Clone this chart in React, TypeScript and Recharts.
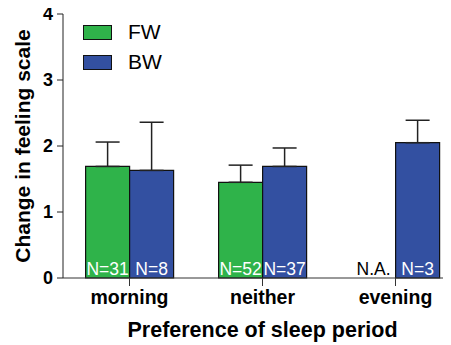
import React from "react";
import { BarChart, Bar, XAxis, YAxis, ErrorBar, LabelList } from "recharts";

const categories = ["morning", "neither", "evening"];
const fwMeans: (number | null)[] = [1.69, 1.45, null];
const fwSem: (number | null)[] = [0.37, 0.26, null];
const fwLabels = ["N=31", "N=52", "N.A."];
const bwMeans = [1.63, 1.69, 2.05];
const bwSem = [0.73, 0.28, 0.34];
const bwLabels = ["N=8", "N=37", "N=3"];
const yTicks = [0, 1, 2, 3, 4];

const GREEN = "#2fb34a";
const BLUE = "#3350a1";
const FONT = "'Liberation Sans', Arial, sans-serif";

const data = categories.map((c, i) => ({
  category: c,
  fw: fwMeans[i],
  fwErr: fwSem[i] == null ? null : [0, fwSem[i]],
  fwLabel: fwLabels[i],
  bw: bwMeans[i],
  bwErr: [0, bwSem[i]],
  bwLabel: bwLabels[i],
}));

// Sample size printed in white at the foot of each bar.
const NLabel = (props: any) => {
  const { x, y, width, height, value } = props;
  if (x == null || width == null) return null;
  return (
    <text
      x={x + width / 2}
      y={y + height - 3}
      textAnchor="middle"
      fill="#fff"
      fontFamily={FONT}
      fontSize={17.5}
    >
      {value}
    </text>
  );
};

// A group with no FW data has no bar, so its note is placed in the empty FW slot
// just left of the BW bar of the same category.
const MissingLabel = (props: any) => {
  const { x, y, width, height, index } = props;
  if (x == null || width == null || fwMeans[index] != null) return null;
  return (
    <text
      x={x - width / 2}
      y={y + height - 3}
      textAnchor="middle"
      fill="#000"
      fontFamily={FONT}
      fontSize={17.5}
    >
      {fwLabels[index]}
    </text>
  );
};

const legendItems = [
  { name: "FW", color: GREEN },
  { name: "BW", color: BLUE },
];

export default function App() {
  return (
    <div style={{ position: "relative", margin: "-8px 0 0 -8px", width: 451, height: 345, overflow: "hidden" }}>
      <BarChart
        width={470}
        height={345}
        data={data}
        margin={{ top: 14, right: 8, bottom: 0, left: 0 }}
        barCategoryGap="17%"
        barGap={0}
      >
        <XAxis
          dataKey="category"
          height={67}
          stroke="#333"
          tickSize={8}
          tickMargin={4}
          tick={{ fill: "#000", fontFamily: FONT, fontSize: 19.5, fontWeight: "bold" }}
          label={{
            value: "Preference of sleep period",
            position: "insideBottom",
            offset: 8,
            fill: "#000",
            fontFamily: FONT,
            fontSize: 21.5,
            fontWeight: "bold",
          }}
        />
        <YAxis
          width={63}
          domain={[0, 4]}
          ticks={yTicks}
          stroke="#222"
          tickSize={6}
          tickMargin={4}
          tick={{ fill: "#000", fontFamily: FONT, fontSize: 18, fontWeight: "bold" }}
          label={{
            value: "Change in feeling scale",
            angle: -90,
            position: "insideLeft",
            dx: 18,
            style: { textAnchor: "middle" },
            fill: "#000",
            fontFamily: FONT,
            fontSize: 21,
            fontWeight: "bold",
          }}
        />
        <Bar dataKey="fw" name="FW" fill={GREEN} stroke="#111" strokeWidth={1.2} isAnimationActive={false}>
          <ErrorBar dataKey="fwErr" direction="y" width={12} stroke="#222" strokeWidth={1.5} />
          <LabelList dataKey="fwLabel" content={NLabel} />
        </Bar>
        <Bar dataKey="bw" name="BW" fill={BLUE} stroke="#111" strokeWidth={1.2} isAnimationActive={false}>
          <ErrorBar dataKey="bwErr" direction="y" width={12} stroke="#222" strokeWidth={1.5} />
          <LabelList dataKey="bwLabel" content={NLabel} />
          <LabelList dataKey="fwLabel" content={MissingLabel} />
        </Bar>
      </BarChart>
      <div style={{ position: "absolute", left: 83, top: 17, fontFamily: FONT, fontSize: 21 }}>
        {legendItems.map((it) => (
          <div key={it.name} style={{ display: "flex", alignItems: "center", height: 30 }}>
            <div
              style={{
                width: 27,
                height: 13,
                background: it.color,
                border: "1px solid #111",
                marginRight: 16,
              }}
            />
            <span>{it.name}</span>
          </div>
        ))}
      </div>
    </div>
  );
}
